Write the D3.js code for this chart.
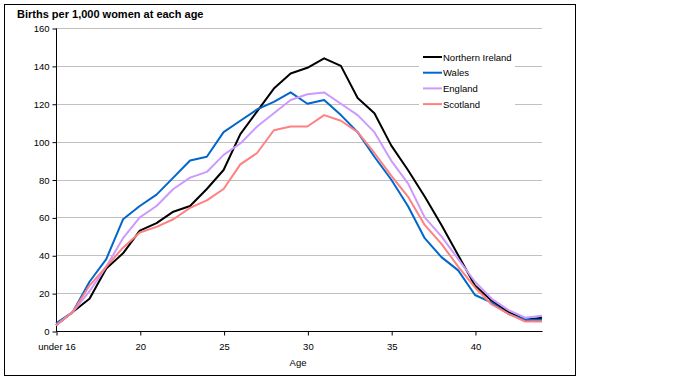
<!DOCTYPE html>
<html>
<head>
<meta charset="utf-8">
<script src="https://cdn.jsdelivr.net/npm/d3@7"></script>
<style>
  body { margin: 0; background: #fff; }
  svg text { font-family: "Liberation Sans", Arial, sans-serif; }
</style>
</head>
<body>
<svg id="chart"></svg>
<script>
// categories (age groups) and tick labels
const ages = ["under 16", "16", "17", "18", "19", "20", "21", "22", "23", "24", "25", "26", "27", "28", "29",
              "30", "31", "32", "33", "34", "35", "36", "37", "38", "39", "40", "41", "42", "43", "44"];
const xTicks = ["under 16", "20", "25", "30", "35", "40"];
const yTicks = [0, 20, 40, 60, 80, 100, 120, 140, 160];

// births per 1,000 women
const northernIreland = [3, 10, 17, 33, 41, 53, 57, 63, 66, 75, 85, 104, 116, 128, 136, 139, 144, 140, 123, 115, 98, 85, 71, 56, 40, 24, 16, 10, 6, 7];
const wales           = [4, 10, 26, 38, 59, 66, 72, 81, 90, 92, 105, 111, 117, 121, 126, 120, 122, 114, 105, 92, 80, 66, 49, 39, 32, 19, 15, 9, 6, 6];
const england         = [3, 10, 21, 34, 49, 60, 66, 75, 81, 84, 93, 99, 108, 115, 122, 125, 126, 120, 114, 105, 90, 78, 60, 50, 38, 26, 17, 11, 7, 8];
const scotland        = [3, 10, 24, 34, 44, 52, 55, 59, 65, 69, 75, 88, 94, 106, 108, 108, 114, 111, 105, 94, 82, 71, 56, 46, 34, 23, 14, 9, 5, 5];

const seriesNames = ["Northern Ireland", "Wales", "England", "Scotland"];
const seriesValues = [northernIreland, wales, england, scotland];
const colours = ["#000000", "#0066cc", "#cc99ff", "#ff8080"];

const series = seriesNames.map((name, i) => ({ name: name, values: seriesValues[i], colour: colours[i] }));

const svg = d3.select("#chart")
  .attr("width", 680)
  .attr("height", 384);

// outer frame
svg.append("rect")
  .attr("x", 4.5).attr("y", 4.5)
  .attr("width", 571).attr("height", 371)
  .attr("fill", "#fff")
  .attr("stroke", "#000")
  .attr("stroke-width", 1);

const x = d3.scalePoint().domain(ages).range([56, 542]);
const y = d3.scaleLinear().domain([0, 160]).range([331, 28]);

// title
svg.append("text")
  .attr("x", 17).attr("y", 18)
  .attr("font-size", "11px")
  .attr("font-weight", "bold")
  .text("Births per 1,000 women at each age");

// gridlines
svg.append("g")
  .selectAll("line")
  .data(yTicks.filter(d => d > 0))
  .join("line")
  .attr("x1", 56).attr("x2", 542)
  .attr("y1", d => Math.round(y(d)) + 0.5)
  .attr("y2", d => Math.round(y(d)) + 0.5)
  .attr("stroke", "#c0c0c0")
  .attr("stroke-width", 1);

// y axis
const yAxis = svg.append("g")
  .attr("transform", "translate(56.5,0.5)")
  .call(d3.axisLeft(y).tickValues(yTicks).tickSize(4).tickPadding(3).tickFormat(d3.format("d")));
yAxis.select(".domain").attr("d", `M0,${y(160)}V${y(0)}`);
yAxis.selectAll("text").attr("font-size", "9.5px").attr("font-family", null).attr("fill", "#000");

// legend background (hides the gridlines behind it)
svg.append("rect")
  .attr("x", 419).attr("y", 47)
  .attr("width", 96).attr("height", 67)
  .attr("fill", "#fff");

// lines
const line = d3.line()
  .x((d, i) => x(ages[i]))
  .y(d => y(d));

svg.append("g")
  .selectAll("path")
  .data(series)
  .join("path")
  .attr("d", d => line(d.values))
  .attr("fill", "none")
  .attr("stroke", d => d.colour)
  .attr("stroke-width", 2)
  .attr("stroke-linejoin", "round");

// x axis
const xAxis = svg.append("g")
  .attr("transform", "translate(0.5,331.5)")
  .call(d3.axisBottom(x).tickValues(xTicks).tickSize(4).tickPadding(8));
xAxis.select(".domain").attr("d", "M56,0H542");
xAxis.selectAll("text").attr("font-size", "9.5px").attr("font-family", null).attr("fill", "#000");

svg.append("text")
  .attr("x", 298).attr("y", 366)
  .attr("text-anchor", "middle")
  .attr("font-size", "9.5px")
  .text("Age");

// legend
const legend = svg.append("g")
  .selectAll("g")
  .data(series)
  .join("g")
  .attr("transform", (d, i) => `translate(423,${57 + i * 15.7})`);

legend.append("line")
  .attr("x1", 0).attr("x2", 19)
  .attr("y1", 0).attr("y2", 0)
  .attr("stroke", d => d.colour)
  .attr("stroke-width", 2);

legend.append("text")
  .attr("x", 20).attr("y", 3.5)
  .attr("font-size", "9.5px")
  .text(d => d.name);
</script>
</body>
</html>
